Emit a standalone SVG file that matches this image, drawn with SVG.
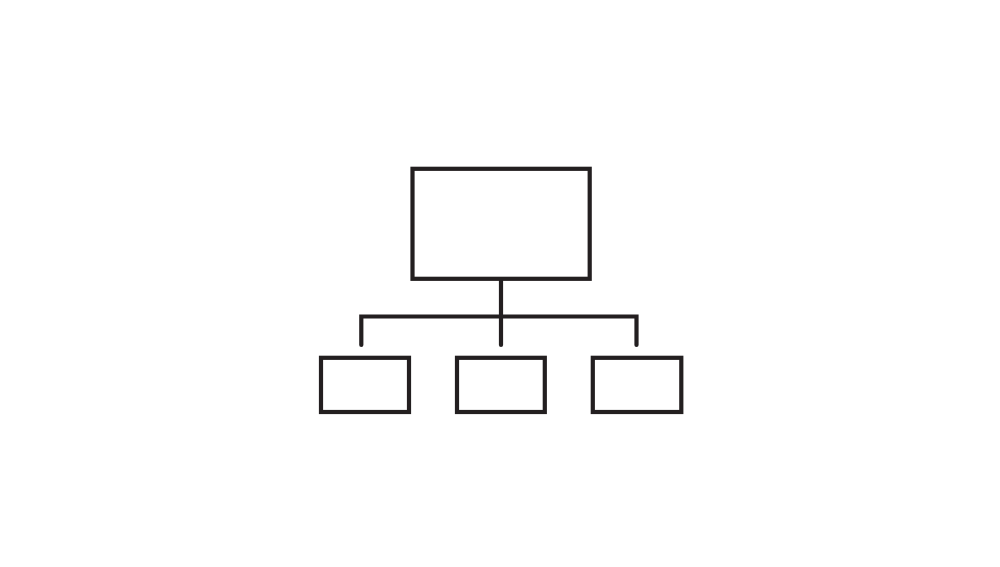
<svg xmlns="http://www.w3.org/2000/svg" width="1000" height="567" viewBox="0 0 1000 567">
<style>
.box{fill:none;stroke:#231f20;stroke-width:4.2;stroke-linejoin:miter}
.ln{fill:none;stroke:#231f20;stroke-width:4.2;stroke-linecap:round;stroke-linejoin:miter}
</style>
<rect width="1000" height="567" fill="#ffffff"/>
<g id="connectors">
<path class="ln" d="M501 279 V345"/>
<path class="ln" d="M361.3 345 V316.5 H636.5 V345"/>
</g>
<g id="root"><rect class="box" x="412.5" y="168.8" width="177.2" height="110"/></g>
<g id="child1"><rect class="box" x="321" y="357.8" width="88" height="54.2"/></g>
<g id="child2"><rect class="box" x="457" y="357.8" width="87.8" height="54.2"/></g>
<g id="child3"><rect class="box" x="592.8" y="357.8" width="88.5" height="54.2"/></g>
</svg>
